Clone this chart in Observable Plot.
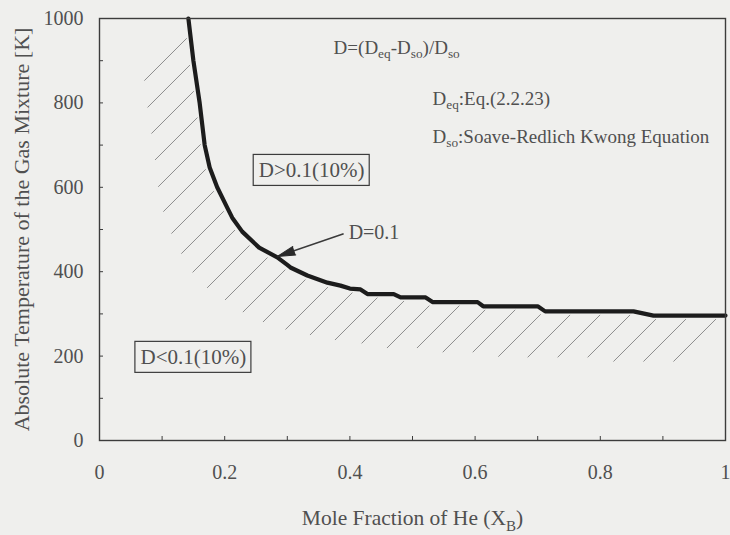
<!DOCTYPE html>
<html>
<head>
<meta charset="utf-8">
<script src="https://cdn.jsdelivr.net/npm/d3@7"></script>
<script src="https://cdn.jsdelivr.net/npm/@observablehq/plot@0.6"></script>
<style>
  html, body { margin: 0; padding: 0; background: #efefed; }
  #chart svg { display: block; }
  #chart svg text { font-family: "Liberation Serif", "Times New Roman", serif; }
</style>
</head>
<body>
<div id="chart"></div>
<script>
// ---- data ----
const moleFraction = [0.142, 0.150, 0.160, 0.168, 0.176, 0.188, 0.204, 0.212, 0.228, 0.255, 0.284, 0.300, 0.305, 0.332, 0.364, 0.385, 0.400, 0.417, 0.428, 0.470, 0.481, 0.521, 0.532, 0.604, 0.613, 0.700, 0.712, 0.853, 0.885, 1.000];
const temperature  = [1000, 900, 800, 700, 647, 600, 552, 528, 495, 457, 434, 416, 410, 391, 374, 367, 360, 358, 347, 347, 339, 339, 328, 328, 318, 318, 306, 306, 296, 296];

const xMinorTicks = [0, 0.1, 0.2, 0.3, 0.4, 0.5, 0.6, 0.7, 0.8, 0.9, 1];
const xTickLabels = [0, 0.2, 0.4, 0.6, 0.8, 1];
const yMinorTicks = [0, 100, 200, 300, 400, 500, 600, 700, 800, 900, 1000];
const yTickLabels = [0, 200, 400, 600, 800, 1000];

const xTitle = "Mole Fraction of He (X_{B})";
const yTitle = "Absolute Temperature of the Gas Mixture [K]";

const noteTexts = ["D=(D_{eq}-D_{so})/D_{so}", "D_{eq}:Eq.(2.2.23)", "D_{so}:Soave-Redlich Kwong Equation"];
const noteX = [0.374, 0.532, 0.532];
const noteY = [931, 810, 720];

const boxTexts = ["D>0.1(10%)", "D<0.1(10%)"];
const boxX = [0.339, 0.150];
const boxY = [640, 197];

const arrowLabel = "D=0.1";
const arrowLabelX = 0.398, arrowLabelY = 493;
const arrowFromX = 0.390, arrowFromY = 490;
const arrowTipX = 0.284, arrowTipY = 436;

// ---- styling ----
const serif = "'Liberation Serif', 'Times New Roman', serif";
const textColor = "#505050";
const axisColor = "#3c3c3c";
const bg = "#efefed";
const fmt = d => String(d);

const curve = moleFraction.map((x, i) => ({x, T: temperature[i]}));
const notes = noteTexts.map((t, i) => ({t, x: noteX[i], y: noteY[i]}));
const boxes = boxTexts.map((t, i) => ({t, x: boxX[i], y: boxY[i]}));

const layout = {
  width: 730, height: 535,
  marginLeft: 99, marginRight: 5, marginTop: 18, marginBottom: 95,
  x: {domain: [0, 1]},
  y: {domain: [0, 1000]},
  style: {background: bg, fontFamily: serif, color: textColor}
};

// probe plot to obtain the scales (for hatch + arrow geometry in pixel space)
const probe = Plot.plot({...layout, marks: [Plot.line(curve, {x: "x", y: "T"})]});
const sx = probe.scale("x"), sy = probe.scale("y");
const pts = curve.map(d => [sx.apply(d.x), sy.apply(d.T)]);

// hatch lines: 45° segments starting just below/left of the curve
const hatch = [];
const step = 30, gap = 5, len = 60, r2 = Math.SQRT2;
const left = sx.apply(0);
for (let c = 14; c <= 1100; c += step) {
  for (let i = 0; i < pts.length - 1; i++) {
    const f0 = pts[i][0] + pts[i][1] - c, f1 = pts[i + 1][0] + pts[i + 1][1] - c;
    if ((f0 <= 0 && f1 > 0)) {
      const t = -f0 / (f1 - f0);
      const ix = pts[i][0] + t * (pts[i + 1][0] - pts[i][0]);
      const iy = pts[i][1] + t * (pts[i + 1][1] - pts[i][1]);
      if (iy < 30) break;
      const ax = ix - gap / r2, ay = iy + gap / r2;
      const bx = ix - (gap + len) / r2, by = iy + (gap + len) / r2;
      if (bx > left + 2) {
        hatch.push({x1: sx.invert(ax), y1: sy.invert(ay), x2: sx.invert(bx), y2: sy.invert(by)});
      }
      break;
    }
  }
}

// arrow direction
const adx = sx.apply(arrowTipX) - sx.apply(arrowFromX);
const ady = sy.apply(arrowTipY) - sy.apply(arrowFromY);
const arrowAngle = Math.atan2(adx, -ady) * 180 / Math.PI;

const plot = Plot.plot({
  ...layout,
  marks: [
    Plot.link(hatch, {x1: "x1", y1: "y1", x2: "x2", y2: "y2", stroke: "#8e8e8e", strokeWidth: 1}),
    Plot.line(curve, {x: "x", y: "T", stroke: "#1c1c1c", strokeWidth: 4.2, strokeLinejoin: "round", strokeLinecap: "round"}),
    Plot.frame({stroke: axisColor, strokeWidth: 1.4}),
    // inward ticks
    Plot.axisX(xMinorTicks, {tickSize: 4, dy: -4, fill: "none", stroke: axisColor, label: null}),
    Plot.axisY(yMinorTicks, {tickSize: 4, dx: 4, fill: "none", stroke: axisColor, label: null}),
    // tick labels
    Plot.axisX(xTickLabels, {tickSize: 0, tickPadding: 24, tickFormat: fmt, fontSize: 20, fill: textColor, label: null, fontFamily: serif}),
    Plot.axisY(yTickLabels, {tickSize: 0, tickPadding: 16, tickFormat: fmt, fontSize: 20, fill: textColor, label: null, fontFamily: serif}),
    // axis titles
    Plot.text([xTitle], {frameAnchor: "bottom", dy: 78, text: d => d, fontSize: 21.5, fill: textColor, fontFamily: serif, textAnchor: "middle", lineAnchor: "middle"}),
    Plot.text([yTitle], {frameAnchor: "left", dx: -78, rotate: -90, text: d => d, fontSize: 22, fill: textColor, fontFamily: serif, textAnchor: "middle", lineAnchor: "middle"}),
    // notes
    Plot.text(notes, {x: "x", y: "y", text: "t", fontSize: 19, fill: textColor, fontFamily: serif, textAnchor: "start", lineAnchor: "middle"}),
    // boxed labels
    Plot.rect(boxes, {x1: "x", x2: "x", y1: "y", y2: "y", insetLeft: -58, insetRight: -58, insetTop: -15.5, insetBottom: -15.5, fill: "none", stroke: axisColor, strokeWidth: 1.2}),
    Plot.text(boxes, {x: "x", y: "y", text: "t", fontSize: 21, fill: textColor, fontFamily: serif, textAnchor: "middle", lineAnchor: "middle"}),
    // D=0.1 arrow
    Plot.link([{}], {x1: () => arrowFromX, y1: () => arrowFromY, x2: () => arrowTipX, y2: () => arrowTipY, stroke: "#3a3a3a", strokeWidth: 1.5}),
    Plot.vector([{}], {x: () => arrowTipX, y: () => arrowTipY, rotate: arrowAngle, length: 18, r: 4.5, shape: "spike", anchor: "end", fill: "#2a2a2a", fillOpacity: 1, stroke: "#2a2a2a", strokeWidth: 1}),
    Plot.text([arrowLabel], {x: () => arrowLabelX, y: () => arrowLabelY, text: d => d, fontSize: 20, fill: textColor, fontFamily: serif, textAnchor: "start", lineAnchor: "middle"})
  ]
});

// subscripts: turn "_{..}" into tspans
function applySubscripts(svg) {
  svg.querySelectorAll("text").forEach(t => {
    const s = t.textContent;
    if (!s.includes("_{")) return;
    const parts = s.split(/(_\{[^}]*\})/).filter(p => p);
    while (t.firstChild) t.removeChild(t.firstChild);
    let shifted = false;
    for (const p of parts) {
      const ts = document.createElementNS("http://www.w3.org/2000/svg", "tspan");
      if (p.startsWith("_{")) {
        ts.textContent = p.slice(2, -1);
        ts.setAttribute("font-size", "70%");
        ts.setAttribute("dy", "0.35em");
        shifted = true;
      } else {
        ts.textContent = p;
        if (shifted) { ts.setAttribute("dy", "-0.245em"); shifted = false; }
      }
      t.appendChild(ts);
    }
  });
}
applySubscripts(plot);
document.getElementById("chart").appendChild(plot);
</script>
</body>
</html>
